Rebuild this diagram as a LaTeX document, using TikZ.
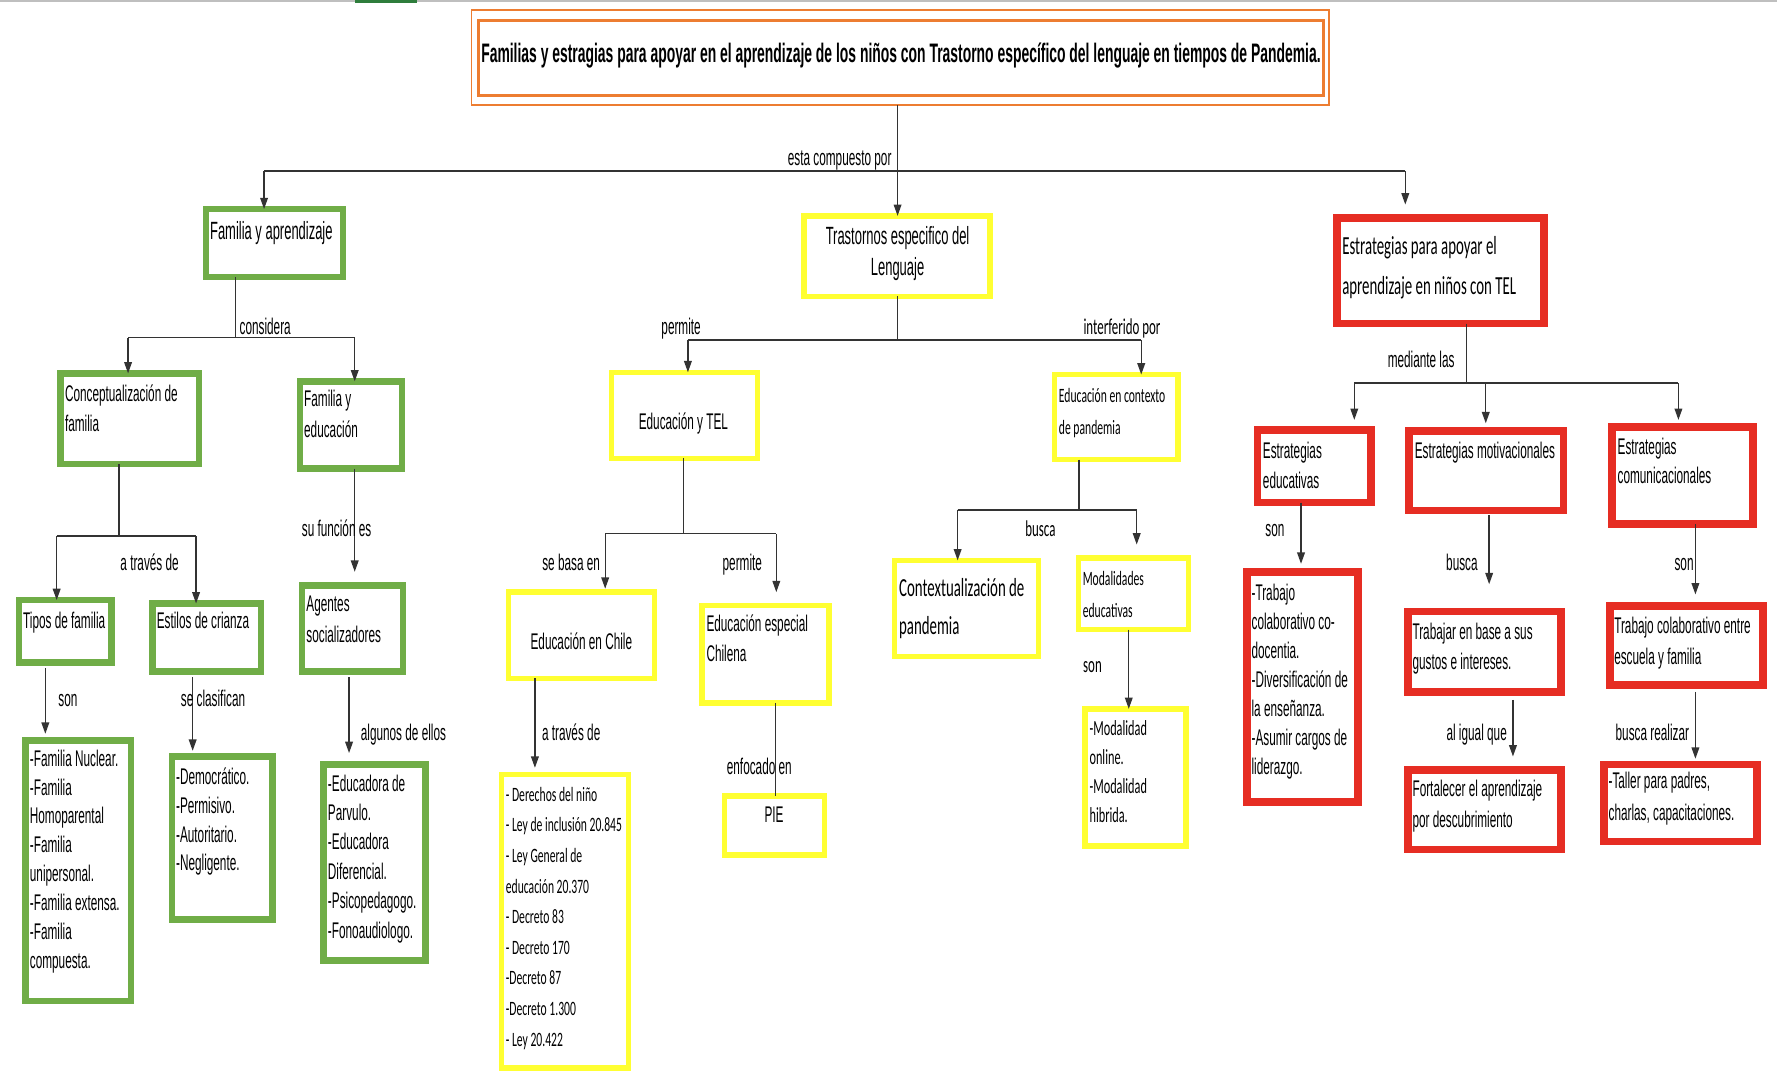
\documentclass[tikz,border=0pt]{standalone}
\usepackage{fontspec}
\setmainfont{Liberation Sans}[FakeStretch=0.52]
\newfontfamily\calf{Carlito}[FakeStretch=0.57]
\usetikzlibrary{arrows.meta}
\definecolor{grn}{RGB}{112,173,71}
\definecolor{yel}{RGB}{255,255,50}
\definecolor{rd}{RGB}{230,45,35}
\definecolor{org}{RGB}{237,125,49}
\definecolor{topg}{RGB}{46,125,60}
\newcommand\ML[1]{\begin{tabular}[t]{@{}l@{}}#1\end{tabular}}
\newcommand\MC[1]{\begin{tabular}[t]{@{}c@{}}#1\end{tabular}}
\newcommand\BX[6]{\node[#2, minimum width={(#5-#3)*0.5pt-2.5pt}, minimum height={(#6-#4)*0.5pt-2.5pt}] (#1) at ({(#3+#5)/2},{(#4+#6)/2}) {};}
\tikzset{
  bx/.style={draw, inner sep=0pt, outer sep=0pt},
  gbox/.style={bx, draw=grn, line width=2.8pt},
  ybox/.style={bx, draw=yel, line width=2.4pt},
  rbox/.style={bx, draw=rd, line width=3.4pt},
  ln/.style={draw=black!80, line width=0.6pt},
  arr/.style={ln, -{Triangle[length=5pt,width=3.4pt]}},
  txt/.style={inner sep=0pt, anchor=base west, font=\fontsize{10}{13.5}\selectfont},
  lbl/.style={inner sep=0pt, anchor=base, font=\fontsize{10}{12}\selectfont},
}
\begin{document}
\begin{tikzpicture}[x=0.5pt,y=-0.5pt]
\useasboundingbox (0,0) rectangle (1568,951);
\fill[white] (0,0) rectangle (1568,951);
% top strip
\fill[black!25] (0,0) rectangle (1568,2.2);
\fill[topg] (313,0) rectangle (368,2.6);

% title
\node[bx, draw=org, line width=0.8pt, minimum width={(1173-416)*0.5pt}, minimum height={(93-9)*0.5pt}] (title) at (794.5,51) {};
\node[bx, draw=org, line width=1.3pt, minimum width={(1168-422)*0.5pt}, minimum height={(84-18)*0.5pt}] (titlein) at (795,51) {};
\node[inner sep=0pt, anchor=base, font=\bfseries\fontsize{11.8}{14}\selectfont] (titlet) at (795,55) {Familias y estragias para apoyar en el aprendizaje de los niños con Trastorno específico del lenguaje en tiempos de Pandemia.};

% boxes
\BX{fam}{gbox}{179}{182}{305}{247}
\BX{tr}{ybox}{707}{188}{876}{264}
\BX{est}{rbox}{1177}{190}{1365}{288}
\BX{cf}{gbox}{51}{327}{178}{412}
\BX{fe}{gbox}{262}{334}{357}{416}
\BX{edtel}{ybox}{537}{326}{671}{407}
\BX{ctx}{ybox}{928}{328}{1042}{408}
\BX{ee}{rbox}{1107}{377}{1212}{446}
\BX{em}{rbox}{1241}{378}{1382}{453}
\BX{ec}{rbox}{1420}{374}{1549}{465}
\BX{tipo}{gbox}{14}{527}{101}{587}
\BX{estilos}{gbox}{132}{530}{233}{595}
\BX{ag}{gbox}{264}{514}{358}{595}
\BX{chile}{ybox}{446}{520}{580}{601}
\BX{esp}{ybox}{617}{532}{734}{623}
\BX{contx}{ybox}{787}{492}{919}{582}
\BX{moda}{ybox}{949}{490}{1051}{558}
\BX{tcd}{rbox}{1098}{502}{1201}{710}
\BX{tb}{rbox}{1240}{537}{1380}{613}
\BX{tce}{rbox}{1418}{532}{1558}{607}
\BX{famlist}{gbox}{20}{651}{118}{886}
\BX{demlist}{gbox}{149}{665}{243}{814}
\BX{edulist}{gbox}{283}{672}{378}{850}
\BX{derlist}{ybox}{440}{681}{557}{945}
\BX{pie}{ybox}{637}{700}{730}{757}
\BX{modlist}{ybox}{955}{623}{1049}{749}
\BX{fort}{rbox}{1240}{677}{1380}{752}
\BX{taller}{rbox}{1413}{672}{1553}{745}

% texts
\node[txt, font=\fontsize{11}{13.5}\selectfont] (famt) at (185,211) {Familia y aprendizaje};
\node[txt, anchor=base, font=\fontsize{11}{13.5}\selectfont] (trt) at (792,216) {\MC{Trastornos especifico del\\Lenguaje}};
\node[txt, font=\calf\fontsize{11.5}{17.5}\selectfont] (estt) at (1184,225) {\ML{Estrategias para apoyar el\\aprendizaje en niños con TEL}};
\node[txt] (cft) at (57,354) {\ML{Conceptualización de\\familia}};
\node[txt] (fet) at (268,359) {\ML{Familia y\\educación}};
\node[txt, anchor=base] (edtelt) at (603,379) {Educación y TEL};
\node[txt, font=\calf\fontsize{9}{14}\selectfont] (ctxt) at (934,355) {\ML{Educación en contexto\\de pandemia}};
\node[txt, font=\fontsize{10}{13}\selectfont] (eet) at (1114,405) {\ML{Estrategias\\educativas}};
\node[txt] (emt) at (1248,405) {Estrategias motivacionales};
\node[txt, font=\fontsize{10}{13}\selectfont] (ect) at (1427,401) {\ML{Estrategias\\comunicacionales}};
\node[txt] (tipot) at (20,555) {Tipos de familia};
\node[txt] (estilost) at (138,555) {Estilos de crianza};
\node[txt] (agt) at (270,540) {\ML{Agentes\\socializadores}};
\node[txt, anchor=base] (chilet) at (513,573) {Educación en Chile};
\node[txt] (espt) at (623,557) {\ML{Educación especial\\Chilena}};
\node[txt, font=\calf\fontsize{11.5}{17}\selectfont] (contxt) at (793,526) {\ML{Contextualización de\\pandemia}};
\node[txt, font=\calf\fontsize{9}{14}\selectfont] (modat) at (955,517) {\ML{Modalidades\\educativas}};
\node[txt, font=\fontsize{10}{12.75}\selectfont] (tcdt) at (1104,530) {\ML{-Trabajo\\colaborativo co-\\docentia.\\-Diversificación de\\la enseñanza.\\-Asumir cargos de\\liderazgo.}};
\node[txt] (tbt) at (1246,564) {\ML{Trabajar en base a sus\\gustos e intereses.}};
\node[txt] (tcet) at (1424,559) {\ML{Trabajo colaborativo entre\\escuela y familia}};
\node[txt, font=\fontsize{10}{12.75}\selectfont] (famlistt) at (26,676) {\ML{-Familia Nuclear.\\-Familia\\Homoparental\\-Familia\\unipersonal.\\-Familia extensa.\\-Familia\\compuesta.}};
\node[txt, font=\fontsize{10}{12.75}\selectfont] (demlistt) at (155,692) {\ML{-Democrático.\\-Permisivo.\\-Autoritario.\\-Negligente.}};
\node[txt, font=\fontsize{10}{13}\selectfont] (edulistt) at (289,698) {\ML{-Educadora de\\Parvulo.\\-Educadora\\Diferencial.\\-Psicopedagogo.\\-Fonoaudiologo.}};
\node[txt, font=\calf\fontsize{9}{13.5}\selectfont] (derlistt) at (446,707) {\ML{- Derechos del niño\\- Ley de inclusión 20.845\\- Ley General de\\educación 20.370\\- Decreto 83\\- Decreto 170\\-Decreto 87\\-Decreto 1.300\\- Ley 20.422}};
\node[txt, anchor=base] (piet) at (683,726) {PIE};
\node[txt, font=\calf\fontsize{9.5}{12.75}\selectfont] (modlistt) at (961,649) {\ML{-Modalidad\\online.\\-Modalidad\\hibrida.}};
\node[txt] (fortt) at (1246,703) {\ML{Fortalecer el aprendizaje\\por descubrimiento}};
\node[txt, font=\fontsize{10}{14}\selectfont] (tallert) at (1419,696) {\ML{-Taller para padres,\\charlas, capacitaciones.}};

% connectors: title
\coordinate (t1) at (792,151);
\coordinate (tL) at (233,151);
\coordinate (tR) at (1240,151);
\draw[ln] (title.south -| t1) -- (t1);
\draw[ln] (tL) -- (tR);
\draw[arr] (tL) -- (fam.north -| tL);
\draw[arr] (t1) -- (tr.north -| t1);
\draw[arr, shorten >=6pt] (tR) -- (est.north -| tR);
\node[lbl, anchor=base east] (l1) at (787,146) {esta compuesto por};

% familia y aprendizaje
\coordinate (f1) at (208,298);
\coordinate (fL) at (113,298);
\coordinate (fR) at (313,298);
\draw[ln] (fam.south -| f1) -- (f1);
\draw[ln] (fL) -- (fR);
\draw[arr] (fL) -- (cf.north -| fL);
\draw[arr] (fR) -- (fe.north -| fR);
\node[lbl] (l2) at (234,295) {considera};

% conceptualizacion
\coordinate (c1) at (105,473);
\coordinate (cL) at (50,473);
\coordinate (cR) at (173,473);
\draw[ln] (cf.south -| c1) -- (c1);
\draw[ln] (cL) -- (cR);
\draw[arr] (cL) -- (tipo.north -| cL);
\draw[arr] (cR) -- (estilos.north -| cR);
\node[lbl] (l3) at (132,503) {a través de};

% familia y educacion
\coordinate (g1) at (313,0);
\draw[arr, shorten >=6pt] (fe.south -| g1) -- (ag.north -| g1);
\node[lbl] (l4) at (297,473) {su función es};

\coordinate (g2) at (40,0);
\draw[arr, shorten <=2.5pt, shorten >=3pt] (tipo.south -| g2) -- (famlist.north -| g2);
\node[lbl] (l5) at (60,623) {son};
\coordinate (g3) at (170,0);
\draw[arr, shorten <=2.5pt, shorten >=2.5pt] (estilos.south -| g3) -- (demlist.north -| g3);
\node[lbl] (l6) at (188,623) {se clasifican};
\coordinate (g4) at (308,0);
\draw[arr, shorten <=2.5pt, shorten >=5pt] (ag.south -| g4) -- (edulist.north -| g4);
\node[lbl] (l7) at (356,653) {algunos de ellos};

% trastornos
\coordinate (r1) at (792,300);
\coordinate (rL) at (607,300);
\coordinate (rR) at (1007,300);
\draw[ln] (tr.south -| r1) -- (r1);
\draw[ln] (rL) -- (rR);
\draw[arr] (rL) -- (edtel.north -| rL);
\draw[arr] (rR) -- (ctx.north -| rR);
\node[lbl] (l8) at (601,295) {permite};
\node[lbl, font=\calf\fontsize{10}{12}\selectfont] (l9) at (990,295) {interferido por};

% educacion y TEL
\coordinate (e1) at (603,471);
\coordinate (eL) at (534,471);
\coordinate (eR) at (685,471);
\draw[ln] (edtel.south -| e1) -- (e1);
\draw[ln] (eL) -- (eR);
\draw[arr, shorten >=1.5pt] (eL) -- (chile.north -| eL);
\draw[arr, shorten >=6pt] (eR) -- (esp.north -| eR);
\node[lbl] (l10) at (504,503) {se basa en};
\node[lbl] (l11) at (655,503) {permite};

\coordinate (g5) at (472,0);
\draw[arr, shorten >=3pt] (chile.south -| g5) -- (derlist.north -| g5);
\node[lbl] (l12) at (504,653) {a través de};
\coordinate (g6) at (684,0);
\draw[ln] (esp.south -| g6) -- (pie.north -| g6);
\node[lbl] (l13) at (670,683) {enfocado en};

% educacion en contexto
\coordinate (x1) at (952,450);
\coordinate (xL) at (845,450);
\coordinate (xR) at (1003,450);
\draw[ln] (ctx.south -| x1) -- (x1);
\draw[ln] (xL) -- (xR);
\draw[arr] (xL) -- (contx.north -| xL);
\draw[arr, shorten >=6pt] (xR) -- (moda.north -| xR);
\node[lbl, font=\calf\fontsize{10}{12}\selectfont] (l14) at (918,473) {busca};
\coordinate (g7) at (996,0);
\draw[arr] (moda.south -| g7) -- (modlist.north -| g7);
\node[lbl, font=\calf\fontsize{10}{12}\selectfont] (l15) at (964,593) {son};

% estrategias
\coordinate (s1) at (1294,338);
\coordinate (sL) at (1195,338);
\coordinate (sM) at (1311,338);
\coordinate (sR) at (1481,338);
\draw[ln] (est.south -| s1) -- (s1);
\draw[ln] (sL) -- (sR);
\draw[arr, shorten >=4.5pt] (sL) -- (ee.north -| sL);
\draw[arr, shorten >=3.5pt] (sM) -- (em.north -| sM);
\draw[arr, shorten >=3pt] (sR) -- (ec.north -| sR);
\node[lbl] (l16) at (1254,324) {mediante las};

\coordinate (g8) at (1148,0);
\draw[arr, shorten >=3.5pt] (ee.south -| g8) -- (tcd.north -| g8);
\node[lbl] (l17) at (1125,473) {son};
\coordinate (g9) at (1314,0);
\draw[arr, shorten <=2pt, shorten >=12pt] (em.south -| g9) -- (tb.north -| g9);
\node[lbl] (l18) at (1290,503) {busca};
\coordinate (g10) at (1335,0);
\draw[arr, shorten <=3.5pt, shorten >=6pt] (tb.south -| g10) -- (fort.north -| g10);
\node[lbl] (l19) at (1303,653) {al igual que};
\coordinate (g11) at (1496,0);
\draw[arr, shorten >=5pt] (ec.south -| g11) -- (tce.north -| g11);
\node[lbl] (l20) at (1486,503) {son};
\draw[arr, shorten <=3pt, shorten >=2.5pt] (tce.south -| g11) -- (taller.north -| g11);
\node[lbl] (l21) at (1458,653) {busca realizar};
\end{tikzpicture}
\end{document}
